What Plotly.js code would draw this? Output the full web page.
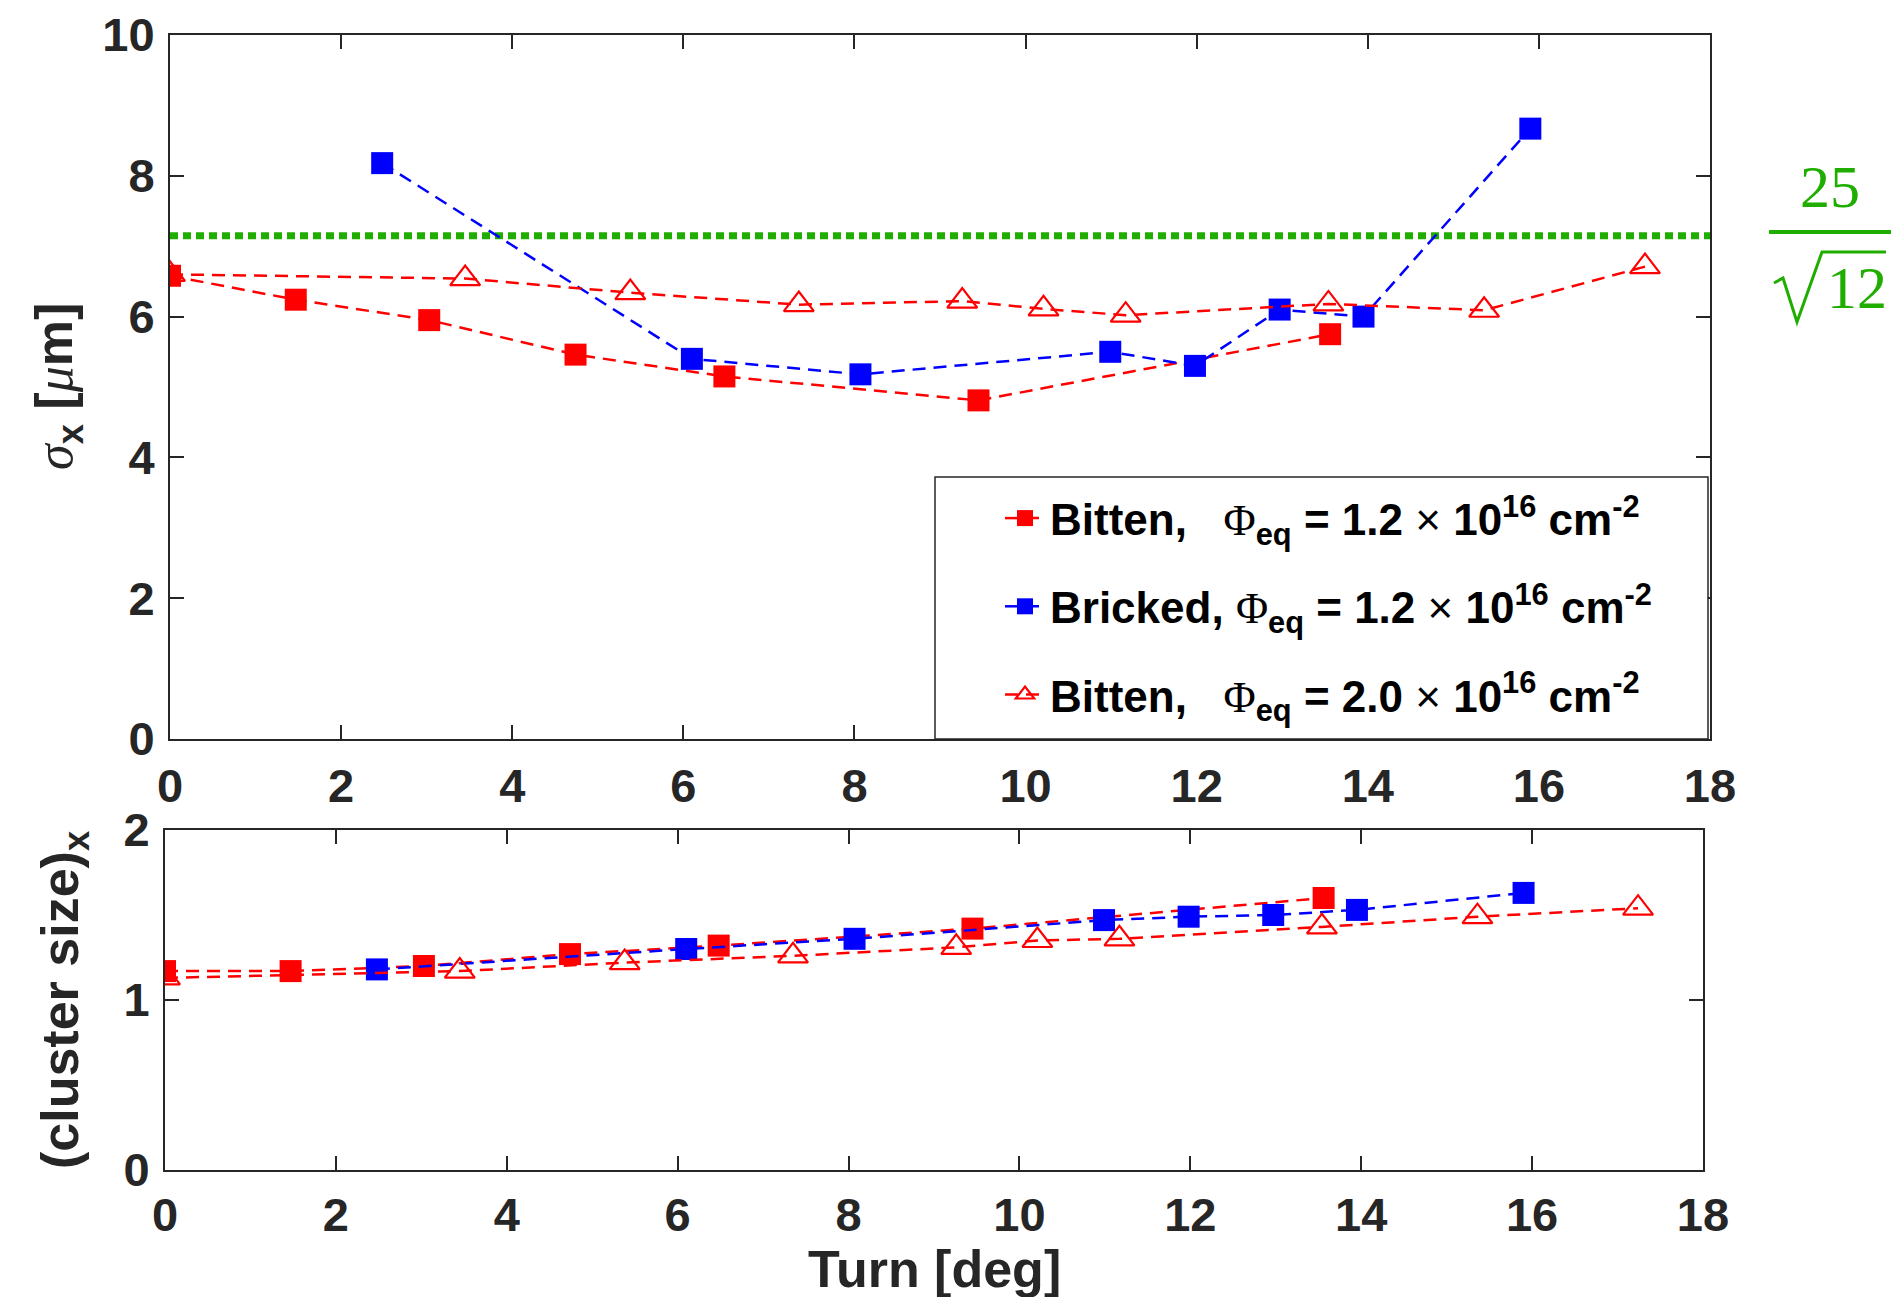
<!DOCTYPE html>
<html>
<head>
<meta charset="utf-8">
<script src="https://cdn.plot.ly/plotly-3.0.1.min.js"></script>
<style>html,body{margin:0;padding:0;background:#fff;}</style>
</head>
<body>
<div id="chart" style="width:1891px;height:1297px;"></div>
<script>
// ---- data ----
const turnBitten12 = [0, 1.47, 3.03, 4.74, 6.48, 9.45, 13.56];
const sigmaBitten12 = [6.58, 6.24, 5.95, 5.46, 5.15, 4.81, 5.75];
const clusterBitten12 = [1.17, 1.17, 1.20, 1.27, 1.32, 1.42, 1.60];

const turnBricked12 = [2.48, 6.10, 8.07, 10.99, 11.98, 12.97, 13.95, 15.90];
const sigmaBricked12 = [8.18, 5.40, 5.18, 5.50, 5.30, 6.10, 6.00, 8.67];
const clusterBricked12 = [1.18, 1.30, 1.36, 1.47, 1.49, 1.50, 1.53, 1.63];

const turnBitten20 = [0, 3.45, 5.38, 7.35, 9.26, 10.21, 11.17, 13.54, 15.36, 17.24];
const sigmaBitten20 = [6.60, 6.54, 6.34, 6.17, 6.22, 6.11, 6.02, 6.18, 6.09, 6.71];
const clusterBitten20 = [1.13, 1.17, 1.22, 1.26, 1.31, 1.35, 1.36, 1.43, 1.49, 1.54];

const thresholdX = [0, 18];
const thresholdY = [7.15, 7.15];

const PHI = '<span style="font-family:\'Liberation Serif\';font-weight:normal">Φ</span>';
const TIMES = '<span style="font-weight:normal">×</span>';
const legendNames = [
  'Bitten,&nbsp;&nbsp;&nbsp;' + PHI + '<sub>eq</sub> = 1.2 ' + TIMES + ' 10<sup>16</sup> cm<sup>-2</sup>',
  'Bricked, ' + PHI + '<sub>eq</sub> = 1.2 ' + TIMES + ' 10<sup>16</sup> cm<sup>-2</sup>',
  'Bitten,&nbsp;&nbsp;&nbsp;' + PHI + '<sub>eq</sub> = 2.0 ' + TIMES + ' 10<sup>16</sup> cm<sup>-2</sup>'
];

const xTicks = [0, 2, 4, 6, 8, 10, 12, 14, 16, 18];
const yTicksTop = [0, 2, 4, 6, 8, 10];
const yTicksBottom = [0, 1, 2];

// ---- styles ----
const W = 1891, H = 1297;
const px = v => v / W;
const py = v => 1 - v / H;
const RED = '#ff0000', BLUE = '#0000ff', GREEN = '#1fae00', AX = '#262626';
const SANS = 'Liberation Sans, Arial, sans-serif';
const dashLine = c => ({color: c, width: 2.5, dash: '13px,8px'});
const sq = c => ({symbol: 'square', size: 22, color: c, line: {width: 0}});
const tri = {symbol: 'triangle-up-open', size: 26, color: RED, line: {color: RED, width: 2.2}};

const traces = [
  {x: thresholdX, y: thresholdY, xaxis: 'x', yaxis: 'y', mode: 'lines',
   line: {color: GREEN, width: 7, dash: '8px,5px'}, showlegend: false, hoverinfo: 'skip'},
  {x: turnBitten12, y: sigmaBitten12, xaxis: 'x', yaxis: 'y', mode: 'lines+markers',
   name: legendNames[0], line: dashLine(RED), marker: sq(RED), legendgroup: 'a'},
  {x: turnBricked12, y: sigmaBricked12, xaxis: 'x', yaxis: 'y', mode: 'lines+markers',
   name: legendNames[1], line: dashLine(BLUE), marker: sq(BLUE), legendgroup: 'b'},
  {x: turnBitten20, y: sigmaBitten20, xaxis: 'x', yaxis: 'y', mode: 'lines+markers',
   name: legendNames[2], line: dashLine(RED), marker: tri, legendgroup: 'c'},
  {x: turnBitten12, y: clusterBitten12, xaxis: 'x2', yaxis: 'y2', mode: 'lines+markers',
   line: dashLine(RED), marker: sq(RED), showlegend: false},
  {x: turnBricked12, y: clusterBricked12, xaxis: 'x2', yaxis: 'y2', mode: 'lines+markers',
   line: dashLine(BLUE), marker: sq(BLUE), showlegend: false},
  {x: turnBitten20, y: clusterBitten20, xaxis: 'x2', yaxis: 'y2', mode: 'lines+markers',
   line: dashLine(RED), marker: tri, showlegend: false}
];

const tickFont = {family: SANS, size: 47, color: AX, weight: 'bold'};
const axisBase = {
  showline: true, linecolor: AX, linewidth: 2, mirror: 'ticks',
  ticks: 'inside', ticklen: 14, tickwidth: 2, tickcolor: AX,
  showgrid: false, zeroline: false, tickfont: tickFont, fixedrange: true
};

const titleFont = {family: SANS, size: 52, color: AX, weight: 'bold'};
const serifIt = s => '<span style="font-family:\'Liberation Serif\';font-style:italic;font-weight:normal">' + s + '</span>';

const layout = {
  width: W, height: H,
  margin: {l: 0, r: 0, t: 0, b: 0},
  paper_bgcolor: '#fff', plot_bgcolor: '#fff',
  font: {family: SANS, color: AX},
  xaxis: Object.assign({}, axisBase, {domain: [px(170), px(1710)], range: [0, 18], tickvals: xTicks, anchor: 'y', ticklabelstandoff: 5}),
  yaxis: Object.assign({}, axisBase, {domain: [py(739), py(35)], range: [0, 10], tickvals: yTicksTop, anchor: 'x', ticklabelstandoff: 4}),
  xaxis2: Object.assign({}, axisBase, {domain: [px(165), px(1703)], range: [0, 18], tickvals: xTicks, anchor: 'y2', ticklabelstandoff: 3}),
  yaxis2: Object.assign({}, axisBase, {domain: [py(1170), py(830)], range: [0, 2], tickvals: yTicksBottom, anchor: 'x2', ticklabelstandoff: 4}),
  showlegend: true,
  legend: {
    x: px(1000), y: py(483), xanchor: 'left', yanchor: 'top',
    bgcolor: 'rgba(0,0,0,0)', borderwidth: 0,
    font: {family: SANS, size: 44, color: '#000', weight: 'bold'},
    tracegroupgap: 28, itemwidth: 40
  },
  annotations: [
    {xref: 'paper', yref: 'paper', x: px(58), y: py(387), textangle: -90, showarrow: false,
     xanchor: 'center', yanchor: 'middle', font: titleFont,
     text: serifIt('σ') + '<sub>x</sub> [' + serifIt('μ') + 'm]'},
    {xref: 'paper', yref: 'paper', x: px(64), y: py(1000), textangle: -90, showarrow: false,
     xanchor: 'center', yanchor: 'middle', font: titleFont,
     text: '(cluster size)<sub>x</sub>'},
    {xref: 'paper', yref: 'paper', x: px(934), y: py(1269), showarrow: false,
     xanchor: 'center', yanchor: 'middle', font: titleFont,
     text: 'Turn [deg]'},
    {xref: 'paper', yref: 'paper', x: px(1830), y: py(187), showarrow: false,
     xanchor: 'center', yanchor: 'middle',
     font: {family: 'Liberation Serif, Times New Roman, serif', size: 60, color: GREEN},
     text: '25'},
    {xref: 'paper', yref: 'paper', x: px(1857), y: py(288), showarrow: false,
     xanchor: 'center', yanchor: 'middle',
     font: {family: 'Liberation Serif, Times New Roman, serif', size: 60, color: GREEN},
     text: '12'}
  ],
  shapes: [
    {type: 'rect', xref: 'paper', yref: 'paper', layer: 'above',
     x0: px(935), x1: px(1708), y0: py(739), y1: py(477),
     fillcolor: '#ffffff', line: {color: AX, width: 1.5}},
    {type: 'line', xref: 'paper', yref: 'paper', x0: px(1769), x1: px(1891), y0: py(232), y1: py(232),
     line: {color: GREEN, width: 4}},
    {type: 'path', xref: 'paper', yref: 'paper',
     path: 'M' + px(1774) + ',' + py(283) + ' L' + px(1783) + ',' + py(278) + ' L' + px(1797) + ',' + py(322) +
           ' L' + px(1822) + ',' + py(252) + ' L' + px(1886) + ',' + py(252),
     line: {color: GREEN, width: 3}}
  ]
};

Plotly.newPlot('chart', traces, layout, {staticPlot: true, displayModeBar: false});
</script>
</body>
</html>
